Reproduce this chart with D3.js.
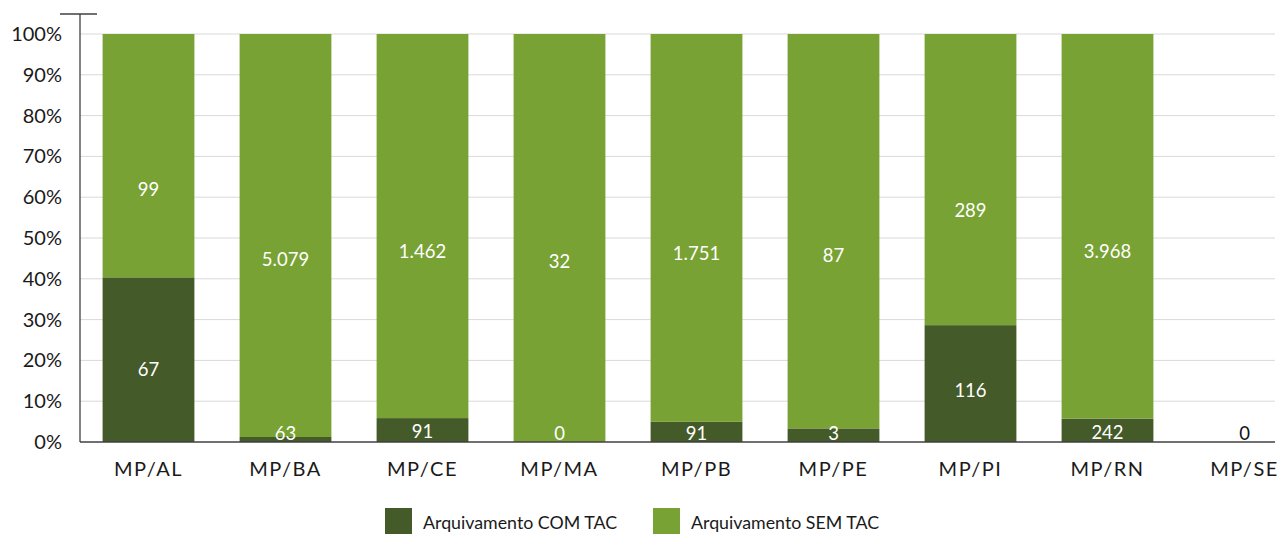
<!DOCTYPE html>
<html><head><meta charset="utf-8">
<script src="https://cdn.jsdelivr.net/npm/d3@7"></script>
<style>body{margin:0;background:#fff}svg{display:block}text{font-family:Lato,"Open Sans",sans-serif}</style>
</head><body><svg id="c" width="1281" height="534"></svg>
<script>
const categories = ["MP/AL","MP/BA","MP/CE","MP/MA","MP/PB","MP/PE","MP/PI","MP/RN","MP/SE"];
const comTAC = [67, 63, 91, 0, 91, 3, 116, 242, 0];
const semTAC = [99, 5079, 1462, 32, 1751, 87, 289, 3968, 0];
const seriesNames = ["Arquivamento COM TAC", "Arquivamento SEM TAC"];
const yTicks = [0,0.1,0.2,0.3,0.4,0.5,0.6,0.7,0.8,0.9,1];
const colors = ["#445a29", "#78a234"];

(function(){
const svg = d3.select("#c");
const pL = 80, pR = 1275, pT = 34, pB = 442;
const step = 137;
const x = d3.scaleBand().domain(categories).range([pL, pL + step*categories.length]).paddingInner(0.33).paddingOuter(0.165);
const y = d3.scaleLinear().domain([0,1]).range([pB, pT]);
const labelShift = 0.885;
const fmt = v => d3.format(",")(v).replace(/,/g, ".");

svg.append("g").selectAll("line").data(yTicks.slice(1)).join("line")
  .attr("x1", pL).attr("x2", pR).attr("y1", d=>y(d)).attr("y2", d=>y(d))
  .attr("stroke", "#d9d9d9").attr("stroke-width", 1);

const rows = categories.map((c,i)=>{
  const tot = comTAC[i] + semTAC[i];
  const p0 = tot ? comTAC[i]/tot : 0;
  const p1 = tot ? 1 : 0;
  return {c, tot, segs:[
    {s:0, v:comTAC[i], a:0, b:p0},
    {s:1, v:semTAC[i], a:p0, b:p1}
  ]};
});

const g = svg.append("g");
rows.forEach(r=>{
  r.segs.forEach(sg=>{
    if (sg.b > sg.a) {
      g.append("rect").attr("x", x(r.c)).attr("width", x.bandwidth())
        .attr("y", y(sg.b)).attr("height", y(sg.a) - y(sg.b)).attr("fill", colors[sg.s]);
    }
  });
});
rows.forEach(r=>{
  if (r.tot === 0) {
    g.append("text").attr("x", x(r.c)+x.bandwidth()/2).attr("y", y(0)-9)
      .attr("text-anchor","middle").attr("dominant-baseline","central")
      .attr("font-size", 18.5).attr("fill", "#111").text(fmt(0));
    return;
  }
  r.segs.forEach(sg=>{
    const mid = (sg.a + sg.b)/2;
    const ly = Math.min(y(mid*labelShift), y(0) - 9);
    g.append("text").attr("x", x(r.c)+x.bandwidth()/2).attr("y", ly)
      .attr("text-anchor","middle").attr("dominant-baseline","central")
      .attr("font-size", 18.5).attr("fill", "#fff").text(fmt(sg.v));
  });
});

const yAxis = d3.axisLeft(y).tickValues(yTicks).tickFormat(d3.format(".0%")).tickSize(0).tickPadding(18);
const ya = svg.append("g").attr("transform", `translate(${pL},0)`).call(yAxis);
ya.select(".domain").remove();
ya.selectAll("text").attr("font-size", 20).attr("fill", "#1a1a1a").attr("font-family","Lato,sans-serif");
svg.append("line").attr("x1", pL).attr("x2", pL).attr("y1", 14).attr("y2", pB).attr("stroke", "#404040").attr("stroke-width", 1.3);
svg.append("line").attr("x1", 60).attr("x2", 97).attr("y1", 14).attr("y2", 14).attr("stroke", "#404040").attr("stroke-width", 1.3);

const xAxis = d3.axisBottom(x).tickSize(0).tickPadding(20);
const xa = svg.append("g").attr("transform", `translate(0,${pB})`).call(xAxis);
xa.select(".domain").remove();
xa.selectAll("text").attr("font-size", 20).attr("fill", "#1a1a1a").attr("font-family","Lato,sans-serif").attr("letter-spacing", 1.5);
svg.append("line").attr("x1", pL).attr("x2", pR).attr("y1", pB).attr("y2", pB).attr("stroke", "#404040").attr("stroke-width", 1.3);

const leg = svg.append("g");
const legX = [385, 653];
seriesNames.forEach((n,i)=>{
  leg.append("rect").attr("x", legX[i]).attr("y", 508).attr("width", 27).attr("height", 26).attr("fill", colors[i]);
  leg.append("text").attr("x", legX[i]+38).attr("y", 522).attr("dominant-baseline","central")
    .attr("font-size", 17.8).attr("fill", "#1a1a1a").text(n);
});
})();
</script></body></html>
